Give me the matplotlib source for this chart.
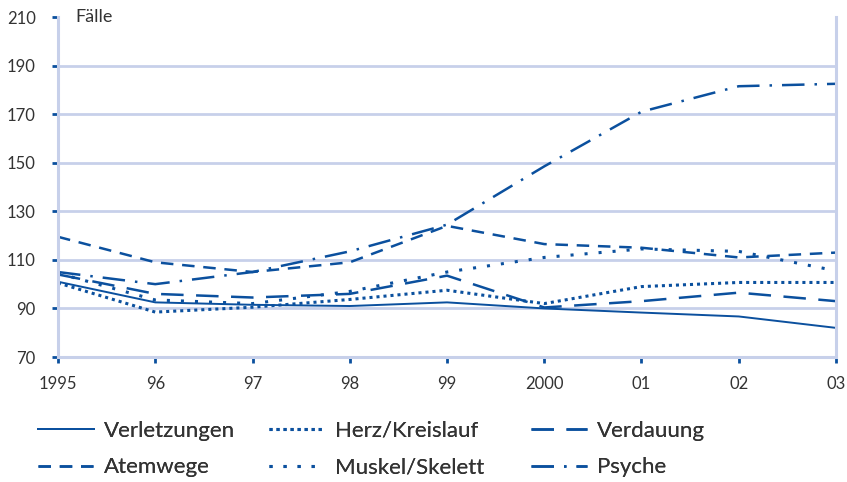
import matplotlib
matplotlib.use("Agg")
import matplotlib.pyplot as plt

# --- data --------------------------------------------------------------
years = [1995, 1996, 1997, 1998, 1999, 2000, 2001, 2002, 2003]
year_labels = ["1995", "96", "97", "98", "99", "2000", "01", "02", "03"]

verletzungen = [101, 92.5, 91.5, 91, 92.5, 90, 88.3, 86.7, 82]
herz_kreislauf = [100.5, 88.5, 90.5, 93.7, 97.5, 92, 99, 100.7, 100.7]
verdauung = [104, 96, 94.5, 96, 103.5, 90.4, 93, 96.5, 93]
atemwege = [119.5, 109, 105, 109, 124, 116.5, 115, 111, 113]
muskel_skelett = [104.5, 93.5, 92, 97, 105, 111, 114.5, 113.5, 105.5]
psyche = [105, 100, 105, 113.5, 124.5, 148.5, 171, 181.5, 182.5]

y_ticks = [70, 90, 110, 130, 150, 170, 190, 210]
grid_vals = [90, 110, 130, 150, 170, 190]

LINE = "#0b509e"
GRID = "#c7d0ea"
TEXT = "#333333"

plt.rcParams["font.family"] = ["Lato", "DejaVu Sans"]

fig = plt.figure(figsize=(8.47, 4.82), dpi=100)
ax = fig.add_axes([0.0685, 0.2593, 0.9185, 0.7054])

series = [
    ("Verletzungen", verletzungen, dict(ls="-", lw=1.4)),
    ("Herz/Kreislauf", herz_kreislauf, dict(ls=(0, (1, 1.3)), lw=2.2)),
    ("Verdauung", verdauung, dict(ls=(0, (9, 5)), lw=1.8)),
    ("Atemwege", atemwege, dict(ls=(0, (5, 3.5)), lw=1.8)),
    ("Muskel/Skelett", muskel_skelett, dict(ls=(0, (1, 3.6)), lw=2.2)),
    ("Psyche", psyche, dict(ls=(0, (9, 4, 1, 4)), lw=1.8)),
]

handles = {}
for name, vals, style in series:
    (h,) = ax.plot(years, vals, color=LINE, label=name, **style)
    handles[name] = h

for v in grid_vals:
    ax.axhline(v, color=GRID, lw=2, zorder=0)

ax.set_xlim(1995, 2003)
ax.set_ylim(70, 210)
ax.set_yticks(y_ticks)
ax.set_yticklabels([str(t) for t in y_ticks])
ax.set_xticks(years)
ax.set_xticklabels(year_labels)

for side in ["left", "right", "bottom"]:
    ax.spines[side].set_color(GRID)
    ax.spines[side].set_linewidth(2.2)
ax.spines["top"].set_visible(False)

ax.tick_params(axis="y", length=4, width=2, color=LINE, labelsize=12,
               labelcolor=TEXT, pad=12)
ax.tick_params(axis="x", length=4, width=2, color=LINE, labelsize=12,
               labelcolor=TEXT, pad=10)

ax.text(0.022, 1.0, "Fälle", transform=ax.transAxes, fontsize=13,
        color=TEXT, va="center", ha="left")

# legend: three columns, each its own legend so x positions can be set
columns = [
    (0.045, ["Verletzungen", "Atemwege"]),
    (0.318, ["Herz/Kreislauf", "Muskel/Skelett"]),
    (0.627, ["Verdauung", "Psyche"]),
]
for x0, names in columns:
    leg = fig.legend([handles[n] for n in names], names, loc="upper left",
                     bbox_to_anchor=(x0, 0.127), frameon=False, fontsize=16,
                     handlelength=2.5, handletextpad=0.45, borderpad=0,
                     borderaxespad=0, labelcolor=TEXT, labelspacing=0.75)
    fig.add_artist(leg)

fig.savefig("out.png", dpi=100)
